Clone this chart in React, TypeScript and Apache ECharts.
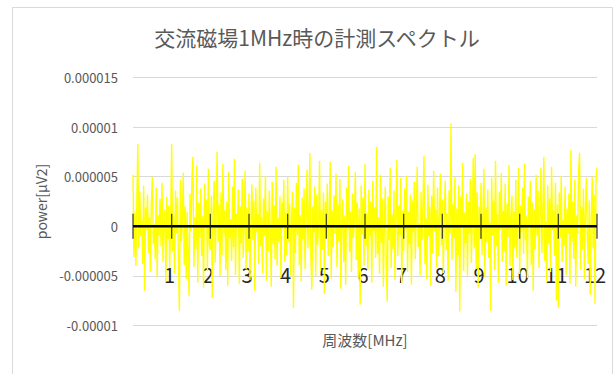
import React, { useEffect, useRef } from "react";
import * as echarts from "echarts";

const titleText = "交流磁場1MHz時の計測スペクトル";
const xName = "周波数[MHz]";
const yName = "power[μV2]";

// frequency range (MHz) and tick labels
const freqMin = 0;
const freqMax = 12;
const xTickValues = [0, 1, 2, 3, 4, 5, 6, 7, 8, 9, 10, 11, 12];
const xTickLabels = ["", "1", "2", "3", "4", "5", "6", "7", "8", "9", "10", "11", "12"];

// y axis ticks, in units of 1e-6 μV², with their printed labels
const yTickValuesE6 = [-10, -5, 0, 5, 10, 15];
const yTickLabels = ["-0.00001", "-0.000005", "0", "0.000005", "0.00001", "0.000015"];

// measured power, in units of 1e-6 μV², 40 samples per MHz
const powerE6 = [
  5.2, -3.1, 1.4, -4.0, 2.6, 8.3, -2.2, 3.5, -1.0, 0.6, -3.8, 4.1, -6.5, 1.9, -0.4, 3.2, -2.7, 0.9, -4.6, 2.3, 5.0, -1.8, 0.2, -3.3, 3.9, -5.1, 1.1, -0.9, 2.8, -2.0, 4.4, -3.6, 0.5, 1.7, -5.6, 3.0, -1.3, 2.1, -4.2, 0.8,
  8.3, -2.5, 1.2, -4.8, 3.6, -0.7, 2.9, -3.4, -8.5, 4.7, -1.6, 0.3, 5.4, -3.9, 2.0, -5.3, 1.5, -2.8, -7.0, 3.3, -0.5, 4.9, 7.0, -4.1, 0.9, -2.3, 6.1, -5.7, 2.4, -1.1, 3.8, -3.0, 1.0, -6.2, 4.3, -0.2, 2.7, -4.5, 5.8, -1.9,
  -2.4, 3.1, -7.2, 1.8, 4.6, -3.7, 0.4, 7.5, -1.5, 2.2, -5.0, 3.4, -2.9, 6.3, -0.8, 1.6, -4.4, 2.5, -6.0, 5.5, -1.2, 0.7, -3.5, 4.0, -2.1, 6.8, -4.9, 1.3, -0.3, 3.7, -5.8, 2.0, -1.7, 4.8, -3.2, 0.1, 5.6, -4.3, 1.9, -2.6,
  3.3, -5.4, 0.6, 4.2, -1.4, 2.6, -6.5, 3.9, -0.6, 1.2, -3.8, 6.4, -2.0, 0.9, -4.7, 2.8, -1.0, 5.1, -5.5, 1.6, -2.5, 3.6, -0.4, -6.1, 4.5, -1.8, 2.1, -3.3, 6.0, -4.0, 0.8, -1.5, 3.0, -5.2, 2.4, -0.2, 4.7, -3.6, 1.4, -2.9,
  5.0, -1.6, 2.3, -4.9, 0.7, 3.5, -8.2, 1.9, -2.7, 4.4, -0.9, 6.2, -3.9, 1.1, -5.6, 2.9, -1.3, 3.8, -4.3, 0.5, 5.7, -2.2, 1.4, 7.4, -3.1, -6.4, 2.0, -0.6, 4.0, -5.0, 3.2, -1.9, 0.3, 6.6, -4.5, 1.7, -2.4, 3.4, -6.8, 2.5,
  -1.1, 4.3, -3.0, 0.8, 6.5, -5.3, 1.6, -2.1, 3.1, -0.7, 5.3, -4.1, 2.2, -1.5, 4.8, -6.3, 0.4, 2.7, -3.6, 1.0, -5.9, 3.9, -0.3, 6.1, -2.6, 1.5, -4.6, 3.3, -1.2, 0.6, 5.5, -3.4, 2.4, -5.1, 1.8, -7.9, 4.1, -0.8, 2.9, -4.0,
  6.3, -2.0, 1.3, -4.4, 3.7, -1.0, 2.5, -5.7, 4.6, -0.5, 1.9, -3.2, 8.0, -2.8, 0.9, -4.8, 5.2, -1.7, 2.8, -6.1, 0.2, 4.0, -3.5, -7.6, 3.0, -1.4, 5.9, -4.2, 1.2, -2.3, 3.6, -5.4, 0.7, 6.7, -3.0, 2.1, -0.9, 4.9, -5.8, 1.6,
  -2.5, 3.8, -0.4, 5.1, -4.6, 1.5, -1.8, 3.2, -5.9, 2.6, -0.6, 4.5, -3.3, 1.0, 6.0, -2.1, 0.3, -4.9, 3.5, -1.4, 2.3, 7.1, -3.8, 0.8, -5.3, 4.2, -1.0, 2.0, -6.0, 3.1, -2.7, 5.6, -0.5, 1.7, -4.1, 3.9, -3.0, 0.6, 5.3, -1.9,
  2.7, -4.7, 0.9, 4.6, -2.4, 1.3, -5.5, 3.6, -0.7, 10.4, -3.4, 2.2, -1.2, 5.0, -6.6, 1.8, -2.9, 4.1, -8.6, 3.0, -0.2, 6.4, -4.5, 1.4, -1.7, 3.3, -5.0, 2.5, -0.8, 4.8, -3.7, 0.5, 6.9, -2.2, 7.3, -4.3, 3.4, -6.2, 2.0, -1.3,
  4.4, -2.9, 0.7, 5.8, -5.1, 1.9, -1.6, 3.7, -3.2, 0.4, -8.5, 4.9, -0.9, 2.6, -4.4, 6.6, -2.0, 1.2, -5.7, 3.5, -0.3, 5.4, -3.6, 1.6, -2.6, 4.3, -6.0, 2.3, -1.1, 6.2, -4.0, 0.8, 3.1, -5.4, 1.5, -2.2, 4.7, -3.1, 0.2, 5.9,
  -4.8, 2.1, -0.6, 3.9, -2.8, 6.3, -1.4, 1.0, -5.2, 3.0, -0.1, 4.6, -3.9, 2.4, -6.5, 1.7, -2.3, 5.2, -1.0, 3.6, -4.2, 0.9, 5.9, -2.7, 1.3, 7.0, -3.5, 0.5, -5.6, 4.1, -1.8, 2.8, -4.6, 6.0, -0.4, 1.6, -3.0, 4.4, -7.5, 2.2,
  -8.2, 3.4, -1.2, 5.1, -3.6, 0.6, -2.0, 4.0, -4.9, 1.8, -0.7, 3.3, -5.8, 7.7, -1.5, 2.5, -3.3, 4.7, -6.1, 1.1, -0.8, 5.6, 7.4, -4.4, 2.0, -2.4, 3.8, -5.3, 1.4, 4.9, -1.1, -3.8, 2.6, -6.9, 0.3, 5.0, -2.2, 3.2, -7.8, 4.5,
  5.9,
];

const FONT = "'Noto Sans CJK JP', 'Noto Sans', sans-serif";

export default function App() {
  const ref = useRef<HTMLDivElement>(null);

  useEffect(() => {
    if (!ref.current) return;
    const chart = echarts.init(ref.current, null, { renderer: "svg" });
    const n = powerE6.length;
    const step = (freqMax - freqMin) / (n - 1);
    const lineData = powerE6.map((v, i) => [freqMin + i * step, v]);
    const zeroLine = [[freqMin, 0], [freqMax, 0]];
    const tickData = xTickValues.map((v) => [v, 0]);

    chart.setOption({
      animation: false,
      backgroundColor: "#ffffff",
      title: {
        text: titleText,
        left: 312,
        textAlign: "center",
        top: 21,
        textStyle: { fontFamily: FONT, fontSize: 21, fontWeight: "normal", color: "#595959" },
      },
      graphic: [
        {
          type: "rect",
          shape: { x: 12.5, y: 7.5, width: 600, height: 380 },
          style: { fill: "none", stroke: "#d9d9d9", lineWidth: 1 },
          silent: true,
        },
      ],
      grid: { left: 133, right: 19, top: 77.5, bottom: 48.5, outerBoundsMode: "none", containLabel: false },
      xAxis: {
        type: "value",
        min: freqMin,
        max: freqMax,
        interval: 1,
        name: xName,
        nameLocation: "middle",
        nameGap: 6,
        nameTextStyle: { fontFamily: FONT, fontSize: 15, color: "#595959" },
        axisLine: { show: false, onZero: false },
        axisTick: { show: false },
        splitLine: { show: false },
        axisLabel: {
          inside: true,
          margin: 41,
          fontFamily: FONT,
          fontSize: 20,
          color: "#262626",
          padding: [0, 4, 0, 0],
          formatter: (v: number) => {
            const idx = xTickValues.indexOf(Math.round(v));
            return idx >= 0 ? xTickLabels[idx] : "";
          },
        },
      },
      yAxis: {
        type: "value",
        min: yTickValuesE6[0],
        max: yTickValuesE6[yTickValuesE6.length - 1],
        interval: 5,
        name: yName,
        nameLocation: "middle",
        nameGap: 82,
        nameTextStyle: { fontFamily: FONT, fontSize: 14, color: "#595959" },
        axisLine: { show: false },
        axisTick: { show: false },
        splitLine: { lineStyle: { color: "#d9d9d9", width: 1 } },
        axisLabel: {
          margin: 15,
          fontFamily: FONT,
          fontSize: 13,
          color: "#595959",
          formatter: (v: number) => {
            const idx = yTickValuesE6.indexOf(Math.round(v));
            return idx >= 0 ? yTickLabels[idx] : "";
          },
        },
      },
      series: [
        {
          type: "line",
          data: lineData,
          symbol: "none",
          lineStyle: { color: "#ffff00", width: 1.4 },
          z: 2,
        },
        {
          type: "line",
          data: zeroLine,
          symbol: "none",
          lineStyle: { color: "#000000", width: 2.5 },
          z: 3,
        },
        {
          type: "scatter",
          data: tickData,
          symbol: "rect",
          symbolSize: [1.3, 25],
          itemStyle: { color: "#1a1a1a" },
          z: 4,
        },
      ],
    });
    return () => chart.dispose();
  }, []);

  return (
    <div
      ref={ref}
      style={{ position: "absolute", left: 0, top: 0, width: 616, height: 374, background: "#fff" }}
    />
  );
}
